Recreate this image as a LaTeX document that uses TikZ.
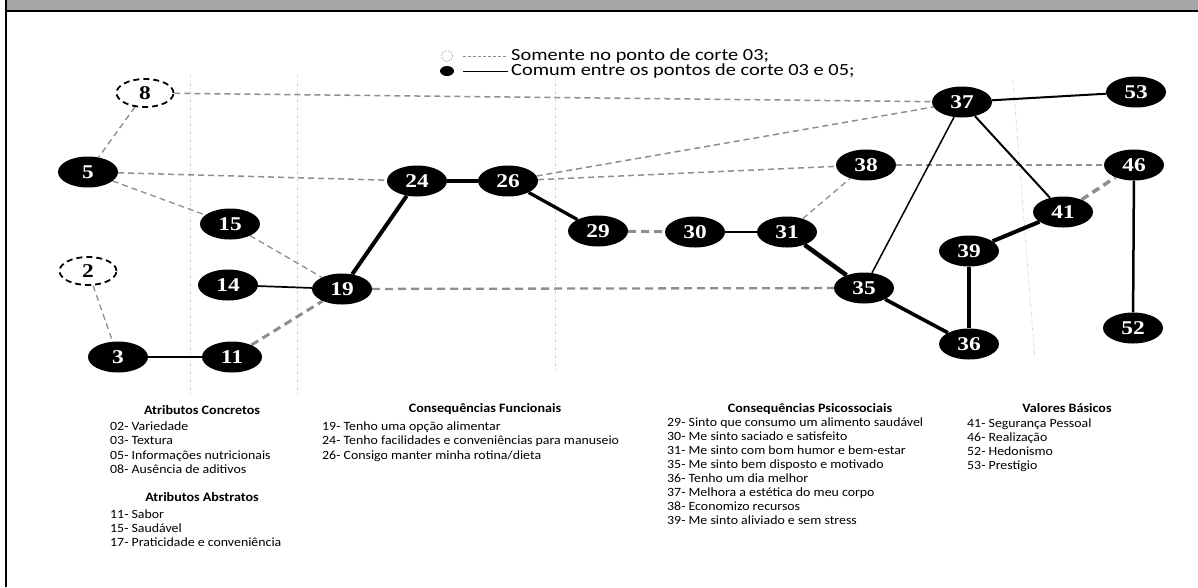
\documentclass[tikz,border=0pt]{standalone}
\usepackage{fontspec}
\setmainfont{Liberation Serif}
\newfontfamily\numfont[FakeStretch=1.2]{Liberation Serif}
\newfontfamily\listfont[FakeStretch=1.1]{Carlito}
\newfontfamily\legfont[FakeStretch=1.2]{Carlito}
\usetikzlibrary{shapes.geometric,backgrounds}

\definecolor{dashgray}{HTML}{8E8E8E}
\definecolor{guidegray}{HTML}{D4D4D4}
\definecolor{bandgray}{HTML}{A6A6A6}

\tikzset{
  cn/.style={ellipse, fill=black, minimum width=60pt, minimum height=31pt,
    inner sep=0pt, text=white, font=\numfont\fontsize{19.5}{19.5}\bfseries\selectfont},
  dn/.style={ellipse, draw=black, fill=white, line width=1.8pt,
    dash pattern=on 6pt off 4pt, minimum width=57pt, minimum height=28pt,
    inner sep=0pt, font=\numfont\fontsize{19.5}{19.5}\bfseries\selectfont},
  gd/.style={draw=dashgray, dash pattern=on 6pt off 4pt, line width=#1},
  gd/.default=1.4pt,
  sl/.style={draw=black, line width=#1},
  guide/.style={draw=guidegray, line width=0.8pt, dash pattern=on 3pt off 2pt on 1pt off 2pt},
  listtxt/.style={font=\listfont\fontsize{12.6}{14}\selectfont, inner sep=0pt, anchor=base west},
  headtxt/.style={font=\listfont\fontsize{12.8}{14}\selectfont\bfseries, inner sep=0pt, anchor=base},
  legtxt/.style={font=\legfont\fontsize{17}{18}\selectfont, inner sep=0pt, anchor=west},
}

\begin{document}
\begin{tikzpicture}[x=1pt,y=-1pt]
\useasboundingbox (0,0) rectangle (1198,587);

% frame: grey title band and left rule
\fill[bandgray] (7,0) rectangle (1198,10);
\draw[line width=2pt] (6,11) -- (1198,11);
\draw[line width=2pt] (6,0) -- (6,587);

% legend
\node[circle, draw=dashgray, dash pattern=on 1.5pt off 1.5pt, line width=0.6pt,
      minimum size=11pt, inner sep=0pt] (lgA) at (447,56) {};
\coordinate (lgA1) at (463,56);
\coordinate (lgA2) at (508,56);
\draw[dashgray, line width=0.8pt, dash pattern=on 3pt off 2pt] (lgA1) -- (lgA2);
\node[legtxt] (ltA) at (511,56) {Somente no ponto de corte 03;};
\node[ellipse, fill=black, minimum width=14pt, minimum height=10pt, inner sep=0pt] (lgB) at (447,71) {};
\coordinate (lgB1) at (463,71);
\coordinate (lgB2) at (508,71);
\draw[line width=1pt] (lgB1) -- (lgB2);
\node[legtxt] (ltB) at (511,71) {Comum entre os pontos de corte 03 e 05;};

% nodes
\node[dn] (n8)  at (145,93)  {8};
\node[cn] (n5)  at (88,172)  {5};
\node[cn] (n15) at (230,224) {15};
\node[dn] (n2)  at (88,271)  {2};
\node[cn] (n14) at (228,285) {14};
\node[cn] (n19) at (342,289) {19};
\node[cn] (n3)  at (118,357) {3};
\node[cn] (n11) at (232,357) {11};
\node[cn] (n24) at (417,181) {24};
\node[cn] (n26) at (508,181) {26};
\node[cn] (n29) at (598,231) {29};
\node[cn] (n30) at (695,232) {30};
\node[cn] (n31) at (787,232) {31};
\node[cn] (n35) at (864,288) {35};
\node[cn] (n36) at (969,344) {36};
\node[cn] (n37) at (962,102) {37};
\node[cn] (n38) at (866,165) {38};
\node[cn] (n39) at (969,251) {39};
\node[cn] (n41) at (1063,212) {41};
\node[cn] (n46) at (1134,165) {46};
\node[cn] (n52) at (1133,328) {52};
\node[cn] (n53) at (1136,92)  {53};

\begin{scope}[on background layer]
  % column separators
  \coordinate (g1a) at (190,75);  \coordinate (g1b) at (190,395);
  \coordinate (g2a) at (297,75);  \coordinate (g2b) at (297,395);
  \coordinate (g3a) at (555,75);  \coordinate (g3b) at (555,372);
  \coordinate (g4a) at (1013,80); \coordinate (g4b) at (1035,360);
  \draw[guide] (g1a) -- (g1b);
  \draw[guide] (g2a) -- (g2b);
  \draw[guide] (g3a) -- (g3b);
  \draw[guide] (g4a) -- (g4b);

  % links found only at cut-off 03
  \draw[gd] (n8) -- (n5);
  \draw[gd=1.5pt] (n8) -- (n37);
  \draw[gd=1.5pt] (n5) -- (n24);
  \draw[gd=1.3pt] (n5) -- (n15);
  \draw[gd=1.3pt] (n15) -- (n19);
  \draw[gd=1.3pt] (n2) -- (n3);
  \draw[gd=3pt, dash pattern=on 8pt off 5pt] (n11) -- (n19);
  \draw[gd=3pt, dash pattern=on 8pt off 5pt] (n29) -- (n30);
  \draw[gd=2.3pt, dash pattern=on 8pt off 5pt] (n19) -- (n35);
  \draw[gd=1.5pt] (n26) -- (n37);
  \draw[gd=1.5pt] (n26) -- (n38);
  \draw[gd=1.5pt] (n38) -- (n46);
  \draw[gd=1.3pt] (n31) -- (n38);
  \draw[gd=3.5pt, dash pattern=on 8pt off 5pt] (n41) -- (n46);

  % links common to cut-offs 03 and 05
  \draw[sl=1.7pt] (n3) -- (n11);
  \draw[sl=1.7pt] (n14) -- (n19);
  \draw[sl=4pt] (n19) -- (n24);
  \draw[sl=3.3pt] (n24) -- (n26);
  \draw[sl=3.3pt] (n26) -- (n29);
  \draw[sl=2.4pt] (n30) -- (n31);
  \draw[sl=4.5pt] (n31) -- (n35);
  \draw[sl=1.5pt] (n35) -- (n37);
  \draw[sl=2pt] (n37) -- (n41);
  \draw[sl=2pt] (n37) -- (n53);
  \draw[sl=3.6pt] (n35) -- (n36);
  \draw[sl=4.5pt] (n36) -- (n39);
  \draw[sl=4pt] (n39) -- (n41);
  \draw[sl=2.5pt] (n46) -- (n52);
\end{scope}

% category lists
\node[headtxt] (hAC) at (202,414) {Atributos Concretos};
\foreach \t [count=\i] in {02- Variedade, 03- Textura, 05- Informações nutricionais, 08- Ausência de aditivos}
  \node[listtxt] (ac\i) at (110,{430+14.5*(\i-1)}) {\t};
\node[headtxt] (hAA) at (202,501) {Atributos Abstratos};
\foreach \t [count=\i] in {11- Sabor, 15- Saudável, 17- Praticidade e conveniência}
  \node[listtxt] (aa\i) at (110,{518+14.2*(\i-1)}) {\t};

\node[headtxt] (hCF) at (485,412) {Consequências Funcionais};
\foreach \t [count=\i] in {19- Tenho uma opção alimentar, 24- Tenho facilidades e conveniências para manuseio, 26- Consigo manter minha rotina/dieta}
  \node[listtxt] (cf\i) at (322,{430+14.5*(\i-1)}) {\t};

\node[headtxt] (hCP) at (810,412) {Consequências Psicossociais};
\foreach \t [count=\i] in {29- Sinto que consumo um alimento saudável, 30- Me sinto saciado e satisfeito, 31- Me sinto com bom humor  e bem-estar, 35- Me sinto bem disposto e motivado, 36- Tenho um dia melhor, 37- Melhora a estética do meu corpo, 38- Economizo recursos, 39- Me sinto aliviado e sem stress}
  \node[listtxt] (cp\i) at (667,{426+14.1*(\i-1)}) {\t};

\node[headtxt] (hVB) at (1067,412) {Valores Básicos};
\foreach \t [count=\i] in {41- Segurança Pessoal, 46- Realização, 52- Hedonismo, 53- Prestígio}
  \node[listtxt] (vb\i) at (967,{427+14.3*(\i-1)}) {\t};
\end{tikzpicture}
\end{document}
